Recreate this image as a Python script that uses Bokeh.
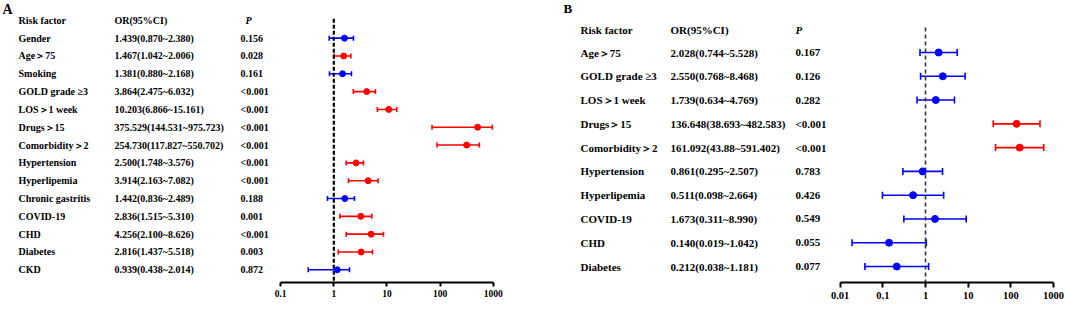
import math
from bokeh.plotting import figure
from bokeh.models import Range1d, LinearScale, FixedTicker, Whisker, TeeHead, ColumnDataSource
from bokeh.layouts import row
from bokeh.embed import file_html
from bokeh.resources import INLINE
from bokeh.core.properties import value

# ---------------- data ----------------
header = ["Risk factor", "OR(95%CI)", "P"]

left_factors = ["Gender", "Age＞75", "Smoking", "GOLD grade ≥3", "LOS＞1 week", "Drugs＞15",
                "Comorbidity＞2", "Hypertension", "Hyperlipemia", "Chronic gastritis",
                "COVID-19", "CHD", "Diabetes", "CKD"]
left_or_text = ["1.439(0.870~2.380)", "1.467(1.042~2.006)", "1.381(0.880~2.168)",
                "3.864(2.475~6.032)", "10.203(6.866~15.161)", "375.529(144.531~975.723)",
                "254.730(117.827~550.702)", "2.500(1.748~3.576)", "3.914(2.163~7.082)",
                "1.442(0.836~2.489)", "2.836(1.515~5.310)", "4.256(2.100~8.626)",
                "2.816(1.437~5.518)", "0.939(0.438~2.014)"]
left_p = ["0.156", "0.028", "0.161", "<0.001", "<0.001", "<0.001", "<0.001",
          "<0.001", "<0.001", "0.188", "0.001", "<0.001", "0.003", "0.872"]
# plotted marks as drawn in panel A
left_or = [1.59, 1.54, 1.46, 4.17, 10.8, 509, 316, 2.63, 4.43, 1.61, 3.22, 5.04, 3.27, 1.16]
left_lo = [0.82, 1.02, 0.83, 2.34, 6.6, 70.6, 87.7, 1.71, 1.89, 0.76, 1.30, 1.71, 1.21, 0.33]
left_hi = [2.34, 2.09, 2.15, 6.08, 15.3, 961, 548, 3.61, 6.8, 2.45, 5.18, 8.6, 5.33, 1.97]
left_ticks = [0.1, 1, 10, 100, 1000]
left_tick_labels = ["0.1", "1", "10", "100", "1000"]

right_factors = ["Age＞75", "GOLD grade ≥3", "LOS＞1 week", "Drugs＞15", "Comorbidity＞2",
                 "Hypertension", "Hyperlipemia", "COVID-19", "CHD", "Diabetes"]
right_or_text = ["2.028(0.744~5.528)", "2.550(0.768~8.468)", "1.739(0.634~4.769)",
                 "136.648(38.693~482.583)", "161.092(43.88~591.402)", "0.861(0.295~2.507)",
                 "0.511(0.098~2.664)", "1.673(0.311~8.990)", "0.140(0.019~1.042)",
                 "0.212(0.038~1.181)"]
right_p = ["0.167", "0.126", "0.282", "<0.001", "<0.001", "0.783", "0.426", "0.549", "0.055", "0.077"]
right_or = [2.028, 2.550, 1.739, 136.648, 161.092, 0.861, 0.511, 1.673, 0.140, 0.212]
right_lo = [0.744, 0.768, 0.634, 38.693, 43.88, 0.295, 0.098, 0.311, 0.019, 0.038]
right_hi = [5.528, 8.468, 4.769, 482.583, 591.402, 2.507, 2.664, 8.990, 1.042, 1.181]
right_ticks = [0.01, 0.1, 1, 10, 100, 1000]
right_tick_labels = ["0.01", "0.1", "1", "10", "100", "1000"]

REF = 1
FONT = "Liberation Serif"
RED = "#ff0000"
BLUE = "#0000ff"


def is_sig(p):
    return p.startswith("<") or float(p) < 0.05


def panel(letter, factors, or_text, p_text, or_v, lo_v, hi_v, ticks, tick_labels, c):
    W, H = c["W"], 310
    FH = H - c["mb"]
    x0 = 10 ** (-c["X1"] / c["DEC"])
    x1 = 10 ** ((W - c["X1"]) / c["DEC"])
    p = figure(width=W, height=H, x_axis_type="log", output_backend="svg",
               toolbar_location=None, x_range=Range1d(x0, x1), y_range=Range1d(FH, 0),
               min_border_left=0, min_border_right=0, min_border_top=0,
               min_border_bottom=c["mb"], y_axis_location=None)
    p.extra_x_ranges = {"tbl": Range1d(0, W)}
    p.extra_x_scales = {"tbl": LinearScale()}
    p.outline_line_color = None
    p.xgrid.visible = False
    p.ygrid.visible = False
    p.background_fill_color = "white"
    p.border_fill_color = "white"

    ys = [c["ROW0"] + c["SP"] * i for i in range(len(factors))]
    fs = c["fs"]

    def txt(xs, yv, texts, size, style="bold"):
        p.text(x=xs, y=yv, text=texts, x_range_name="tbl", text_font=value(FONT),
               text_font_size=size, text_font_style=style, text_color="black",
               text_align="left", text_baseline="middle")

    # letter
    txt([c["LX"]], [c["LY"]], [letter], c["lfs"])
    # header
    txt([c["cx"][0]], [c["HY"]], [header[0]], fs)
    txt([c["cx"][1]], [c["HY"]], [header[1]], fs)
    txt([c["cx"][3]], [c["HY"]], [header[2]], fs, "bold italic")
    # rows
    txt([c["cx"][0]] * len(ys), ys, factors, fs)
    txt([c["cx"][1]] * len(ys), ys, or_text, fs)
    txt([c["cx"][2]] * len(ys), ys, p_text, fs)

    # reference line
    p.line(x=[REF, REF], y=[c["DT"], FH], line_color=c["dash_color"], line_width=c["dash_w"],
           line_dash=c["dash"])

    for sig, col in ((True, RED), (False, BLUE)):
        idx = [i for i in range(len(factors)) if is_sig(p_text[i]) == sig]
        src = ColumnDataSource(dict(y=[ys[i] for i in idx], x=[or_v[i] for i in idx],
                                    lo=[lo_v[i] for i in idx], hi=[hi_v[i] for i in idx]))
        w = Whisker(source=src, base="y", lower="lo", upper="hi", dimension="width",
                    line_color=col, line_width=c["lw"],
                    lower_head=TeeHead(size=c["cap"], line_color=col, line_width=c["lw"]),
                    upper_head=TeeHead(size=c["cap"], line_color=col, line_width=c["lw"]))
        p.add_layout(w)
        p.scatter(x="x", y="y", source=src, size=c["ms"], color=col)

    ax = p.xaxis[0]
    ax.ticker = FixedTicker(ticks=ticks)
    ax.major_label_overrides = {t: l for t, l in zip(ticks, tick_labels)}
    ax.bounds = (ticks[0], ticks[-1])
    ax.axis_line_width = 2
    ax.axis_line_color = "black"
    ax.major_tick_line_width = 2
    ax.major_tick_line_color = "black"
    ax.major_tick_out = c["tick_out"]
    ax.major_tick_in = 0
    ax.minor_tick_out = 0
    ax.minor_tick_in = 0
    ax.major_label_standoff = c["standoff"]
    ax.major_label_text_font = FONT
    ax.major_label_text_font_style = "bold"
    ax.major_label_text_font_size = c["tfs"]
    ax.major_label_text_color = "black"
    return p


cfgA = dict(W=530, mb=18, X1=333.3, DEC=53.15, ROW0=39.0, SP=18.45, HY=20.8,
            LX=2, LY=9, lfs="14px", cx=[18, 114, 240, 245], fs="10px", tfs="9.5px",
            DT=19, dash="4 2", dash_w=2.2, dash_color="black", lw=1.6, cap=5, ms=6,
            tick_out=4, standoff=3)
cfgB = dict(W=535, mb=28, X1=395.0, DEC=42.67, ROW0=52.0, SP=23.78, HY=29.5,
            LX=33, LY=8, lfs="13px", cx=[50, 140, 265, 265], fs="11px", tfs="10.5px",
            DT=27, dash="4 3", dash_w=1.6, dash_color="#333333", lw=1.6, cap=7, ms=7,
            tick_out=5, standoff=4)

pA = panel("A", left_factors, left_or_text, left_p, left_or, left_lo, left_hi,
           left_ticks, left_tick_labels, cfgA)
pB = panel("B", right_factors, right_or_text, right_p, right_or, right_lo, right_hi,
           right_ticks, right_tick_labels, cfgB)

layout = row(pA, pB, spacing=0)
open("out.html", "w").write(file_html(layout, INLINE))
